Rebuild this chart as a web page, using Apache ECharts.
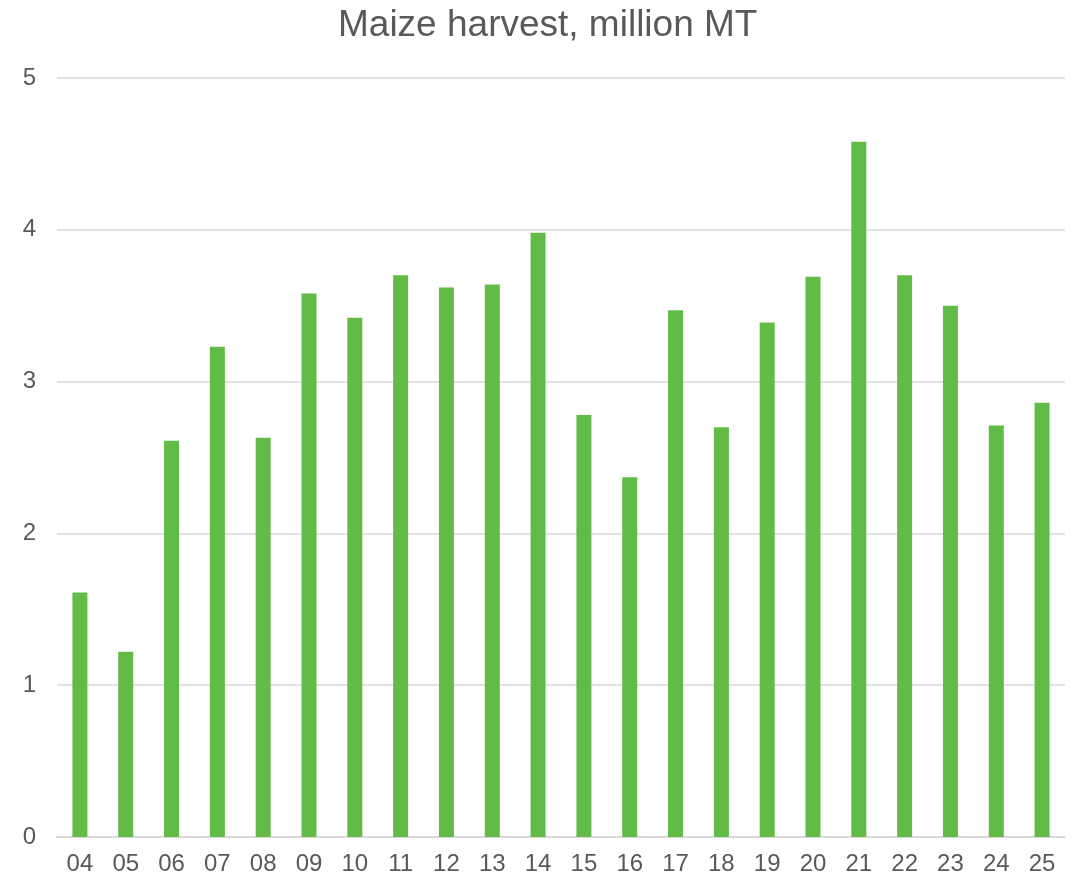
<!DOCTYPE html>
<html>
<head>
<meta charset="utf-8">
<title>Maize harvest</title>
<script src="https://cdn.jsdelivr.net/npm/echarts@6/dist/echarts.min.js"></script>
<style>
  html, body { margin: 0; padding: 0; background: #fff; }
  #chart { width: 1078px; height: 878px; }
</style>
</head>
<body>
<div id="chart"></div>
<script>
// 年份（两位数）
var years = ['04', '05', '06', '07', '08', '09', '10', '11', '12', '13', '14',
             '15', '16', '17', '18', '19', '20', '21', '22', '23', '24', '25'];
// 玉米产量，百万吨
var harvest = [1.61, 1.22, 2.61, 3.23, 2.63, 3.58, 3.42, 3.70, 3.62, 3.64, 3.98,
               2.78, 2.37, 3.47, 2.70, 3.39, 3.69, 4.58, 3.70, 3.50, 2.71, 2.86];

var chart = echarts.init(document.getElementById('chart'));

chart.setOption({
    animation: false,
    title: {
        text: 'Maize harvest, million MT',
        left: 333,
        top: 2,
        textStyle: {
            fontFamily: 'Arial, Liberation Sans, sans-serif',
            fontSize: 37,
            fontWeight: 'normal',
            color: '#595959'
        }
    },
    grid: {
        left: 57,
        right: 13,
        top: 78,
        bottom: 41
    },
    xAxis: {
        type: 'category',
        data: years,
        axisLine: { lineStyle: { color: '#d9d9d9', width: 2 } },
        axisTick: { show: false },
        axisLabel: {
            fontFamily: 'Arial, Liberation Sans, sans-serif',
            fontSize: 24,
            color: '#595959',
            margin: 15
        }
    },
    yAxis: {
        type: 'value',
        min: 0,
        max: 5,
        interval: 1,
        axisLine: { show: false },
        axisTick: { show: false },
        axisLabel: {
            fontFamily: 'Arial, Liberation Sans, sans-serif',
            fontSize: 24,
            color: '#595959',
            margin: 21
        },
        splitLine: { lineStyle: { color: '#d9d9d9', width: 1.5 } }
    },
    series: [{
        type: 'bar',
        data: harvest,
        barWidth: 15,
        itemStyle: { color: '#62bb46' }
    }]
});
</script>
</body>
</html>
